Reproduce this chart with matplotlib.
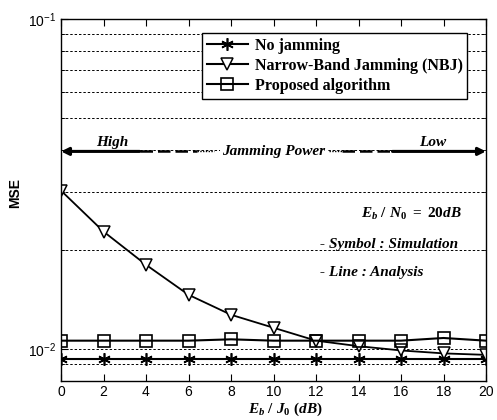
import numpy as np
import matplotlib
matplotlib.use('Agg')
import matplotlib.pyplot as plt
from matplotlib.lines import Line2D
from matplotlib import font_manager

# Données
ebj0 = [0, 2, 4, 6, 8, 10, 12, 14, 16, 18, 20]
mse_no_jam = [0.0093, 0.0093, 0.0093, 0.0093, 0.0093, 0.0093, 0.0093, 0.0093, 0.0093, 0.0093, 0.0093]
mse_nbj = [0.0302, 0.0227, 0.0180, 0.0146, 0.0127, 0.0116, 0.0106, 0.0102, 0.0099, 0.0097, 0.0096]
mse_prop = [0.0106, 0.0106, 0.0106, 0.0106, 0.0107, 0.0106, 0.0106, 0.0106, 0.0106, 0.0108, 0.0106]
labels = ['No jamming', 'Narrow-Band Jamming (NBJ)', 'Proposed algorithm']

names = {f.name for f in font_manager.fontManager.ttflist}
tick_font = 'Liberation Sans Narrow' if 'Liberation Sans Narrow' in names else 'Liberation Sans'

plt.rcParams['font.family'] = [tick_font, 'DejaVu Sans']
plt.rcParams['mathtext.fontset'] = 'custom'
plt.rcParams['mathtext.it'] = 'Liberation Serif:bold:italic'
plt.rcParams['mathtext.rm'] = 'Liberation Serif:bold'
plt.rcParams['mathtext.bf'] = 'Liberation Serif:bold'

fig = plt.figure(figsize=(4.97, 4.2), dpi=100)
ax = fig.add_axes([61/497, 1-381/420, 425/497, 362/420])

ax.plot(ebj0, mse_no_jam, color='k', lw=1.5, marker=(6, 2, 0), ms=9, mew=1.2)
ax.plot(ebj0, mse_nbj, color='k', lw=1.3, marker='v', ms=9, mfc='white', mew=1.1)
ax.plot(ebj0, mse_prop, color='k', lw=1.5, marker='s', ms=8, mfc='none', mew=1.2)

ax.set_yscale('log')
ax.set_xlim(0, 20)
ax.set_ylim(0.008, 0.1)
ax.set_xticks(np.arange(0, 21, 2))
ax.tick_params(which='both', direction='in', top=True, right=True, labelsize=10)
ax.tick_params(which='major', length=5)
ax.tick_params(which='minor', length=3)
ax.tick_params(axis='x', pad=3)
ax.yaxis.grid(True, which='both', color='k', ls=(0, (2.5, 2)), lw=0.7)
for s in ax.spines.values():
    s.set_linewidth(1.0)

ax.set_ylabel('MSE', fontsize=10, fontweight='bold', family='Liberation Sans')
ax.yaxis.set_label_coords(-0.092, 0.52)
ax.set_xlabel(r'$E_b\ /\ J_0\ (dB)$', fontsize=11)
ax.xaxis.set_label_coords(0.527, -0.054)

# Légende
handles = [
    Line2D([], [], color='k', lw=1.5, marker=(6, 2, 0), ms=9, mew=1.2),
    Line2D([], [], color='k', lw=1.5, marker='v', ms=9, mfc='white', mew=1.1),
    Line2D([], [], color='k', lw=1.5, marker='s', ms=8, mfc='none', mew=1.2),
]
leg = ax.legend(handles, labels, loc='upper right', bbox_to_anchor=(0.975, 0.983),
                prop={'family': 'Liberation Serif', 'weight': 'bold', 'size': 11.5},
                fancybox=False, edgecolor='k', framealpha=1, borderpad=0.3,
                labelspacing=0.25, handlelength=2.6, handletextpad=0.4)
leg.get_frame().set_linewidth(1.0)

# Flèche "Jamming Power"
ay = 0.0397
serif_bi = dict(family='Liberation Serif', weight='bold', style='italic', fontsize=11)
ax.annotate('', xy=(0, ay), xytext=(3.7, ay),
            arrowprops=dict(arrowstyle='-|>', lw=2.2, color='k', shrinkA=0, shrinkB=0, mutation_scale=11))
ax.annotate('', xy=(20, ay), xytext=(15.6, ay),
            arrowprops=dict(arrowstyle='-|>', lw=2.2, color='k', shrinkA=0, shrinkB=0, mutation_scale=11))
ax.plot([3.7, 6.4], [ay, ay], color='k', lw=1.8, ls=(0, (5, 2)))
ax.plot([6.4, 7.2], [ay, ay], color='k', lw=1.0, ls=(0, (1, 1)))
ax.plot([12.6, 13.2], [ay, ay], color='k', lw=1.0, ls=(0, (1, 1)))
ax.plot([13.2, 15.6], [ay, ay], color='k', lw=1.8, ls=(0, (5, 2)))
ax.text(10.0, ay, 'Jamming Power', ha='center', va='center', zorder=5,
        bbox=dict(facecolor='white', edgecolor='none', pad=1.5), **serif_bi)
ax.text(2.4, ay * 1.02, 'High', ha='center', va='bottom', **serif_bi)
ax.text(17.5, ay * 1.02, 'Low', ha='center', va='bottom', **serif_bi)

ax.text(16.5, 0.0257, r'$E_b\ /\ N_0\ =\ \mathrm{20}dB$', ha='center', va='center', fontsize=11)
ax.text(12.2, 0.0207, '- Symbol : Simulation', ha='left', va='center', **serif_bi)
ax.text(12.2, 0.0171, '- Line : Analysis', ha='left', va='center', **serif_bi)

fig.savefig('out.png', dpi=100)
